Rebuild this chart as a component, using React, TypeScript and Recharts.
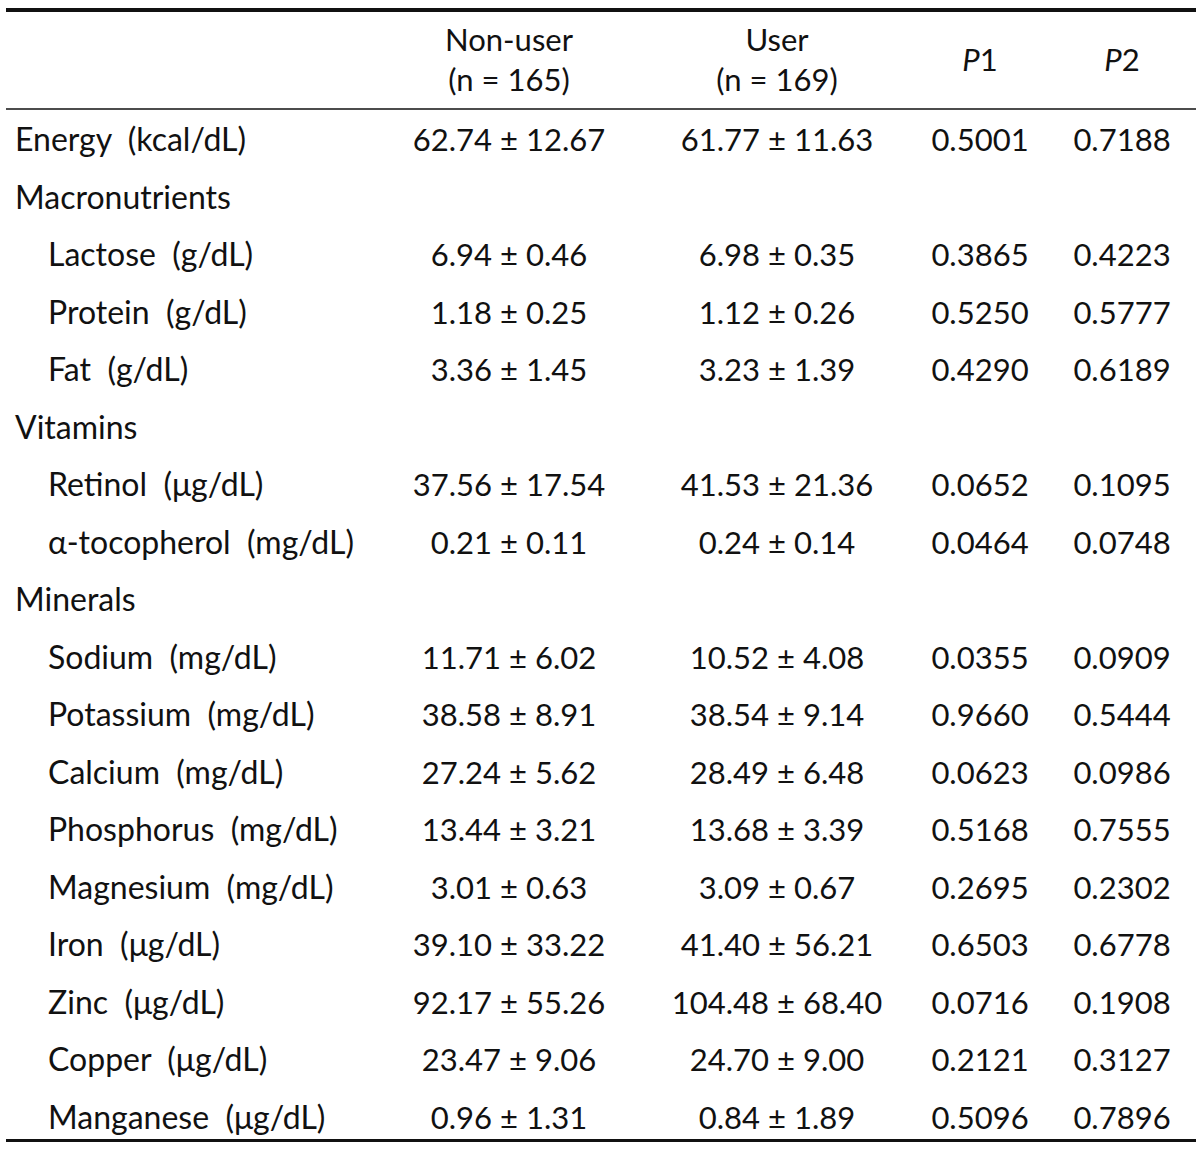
import React from 'react';
import { ScatterChart, Scatter, XAxis, YAxis } from 'recharts';

if (typeof document !== 'undefined') document.body.style.margin = '0';

// rows of the table (section rows have no unit and no values)
const rowNames = ['Energy', 'Macronutrients', 'Lactose', 'Protein', 'Fat', 'Vitamins', 'Retinol', 'α-tocopherol', 'Minerals',
  'Sodium', 'Potassium', 'Calcium', 'Phosphorus', 'Magnesium', 'Iron', 'Zinc', 'Copper', 'Manganese'];
const rowUnits = ['kcal/dL', null, 'g/dL', 'g/dL', 'g/dL', null, 'μg/dL', 'mg/dL', null,
  'mg/dL', 'mg/dL', 'mg/dL', 'mg/dL', 'mg/dL', 'μg/dL', 'μg/dL', 'μg/dL', 'μg/dL'];

const nonUserMean = [62.74, null, 6.94, 1.18, 3.36, null, 37.56, 0.21, null, 11.71, 38.58, 27.24, 13.44, 3.01, 39.10, 92.17, 23.47, 0.96];
const nonUserSd = [12.67, null, 0.46, 0.25, 1.45, null, 17.54, 0.11, null, 6.02, 8.91, 5.62, 3.21, 0.63, 33.22, 55.26, 9.06, 1.31];
const userMean = [61.77, null, 6.98, 1.12, 3.23, null, 41.53, 0.24, null, 10.52, 38.54, 28.49, 13.68, 3.09, 41.40, 104.48, 24.70, 0.84];
const userSd = [11.63, null, 0.35, 0.26, 1.39, null, 21.36, 0.14, null, 4.08, 9.14, 6.48, 3.39, 0.67, 56.21, 68.40, 9.00, 1.89];
const p1 = [0.5001, null, 0.3865, 0.5250, 0.4290, null, 0.0652, 0.0464, null, 0.0355, 0.9660, 0.0623, 0.5168, 0.2695, 0.6503, 0.0716, 0.2121, 0.5096];
const p2 = [0.7188, null, 0.4223, 0.5777, 0.6189, null, 0.1095, 0.0748, null, 0.0909, 0.5444, 0.0986, 0.7555, 0.2302, 0.6778, 0.1908, 0.3127, 0.7896];

// header
const columnKeys = ['nonUser', 'user', 'p1', 'p2'];
const groupNames = ['Non-user', 'User'];
const groupSizes = [165, 169];

// layout
const W = 1200, H = 1153;
const FONT = 'Lato, "Open Sans", sans-serif';
const FS = 32, FS_VAL = 31;
const LABEL_X = 15, INDENT = 33;
const COL_CENTER: Record<string, number> = { nonUser: 509, user: 777, p1: 980, p2: 1122 };

const fmtMeanSd = (m: number | null, s: number | null) => (m == null || s == null ? null : `${m.toFixed(2)} ± ${s.toFixed(2)}`);
const fmtP = (p: number | null) => (p == null ? null : p.toFixed(4));

let inSection = false;
const labelData = rowNames.map((name, i) => {
  const isSection = rowUnits[i] == null;
  if (isSection) inSection = true;
  return { x: LABEL_X, y: i, text: isSection ? name : `${name}  (${rowUnits[i]})`, indent: !isSection && inSection };
});

const cellData = (texts: (string | null)[], key: string) =>
  texts.map((t, i) => ({ x: COL_CENTER[key], y: i, text: t })).filter((d) => d.text != null);

const nonUserData = cellData(nonUserMean.map((m, i) => fmtMeanSd(m, nonUserSd[i])), 'nonUser');
const userData = cellData(userMean.map((m, i) => fmtMeanSd(m, userSd[i])), 'user');
const p1Data = cellData(p1.map(fmtP), 'p1');
const p2Data = cellData(p2.map(fmtP), 'p2');

const LabelCell = (props: any) => {
  const { cx, cy, payload } = props;
  return (
    <text x={cx + (payload.indent ? INDENT : 0)} y={cy} dy={11} textAnchor="start" fontFamily={FONT} fontSize={FS}
      fill="#111" style={{ whiteSpace: 'pre' }}>{payload.text}</text>
  );
};

const ValueCell = (props: any) => {
  const { cx, cy, payload } = props;
  return (
    <text x={cx} y={cy} dy={11} textAnchor="middle" fontFamily={FONT} fontSize={FS_VAL} fill="#111"
      style={{ whiteSpace: 'pre' }}>{payload.text}</text>
  );
};

const HeaderTick = (props: any) => {
  const { x, y, payload } = props;
  const idx = columnKeys.findIndex((k) => COL_CENTER[k] === payload.value);
  if (idx < 0) return null;
  if (idx < 2) {
    return (
      <g>
        <text x={x} y={y - 69 + 11} textAnchor="middle" fontFamily={FONT} fontSize={FS_VAL} fill="#111">{groupNames[idx]}</text>
        <text x={x} y={y - 29 + 11} textAnchor="middle" fontFamily={FONT} fontSize={FS_VAL} fill="#111"
          style={{ whiteSpace: 'pre' }}>{`(n = ${groupSizes[idx]})`}</text>
      </g>
    );
  }
  return (
    <text x={x} y={y - 49 + 11} textAnchor="middle" fontFamily={FONT} fontSize={FS_VAL} fill="#111">
      <tspan fontStyle="italic">P</tspan>{idx - 1}
    </text>
  );
};

export default function App() {
  return (
    <div style={{ position: 'relative', width: W, height: H, background: '#fff' }}>
      <div style={{ position: 'absolute', left: 6, top: 8, width: 1190, height: 4, background: '#111' }} />
      <div style={{ position: 'absolute', left: 6, top: 1139, width: 1190, height: 3, background: '#111' }} />
      <div style={{ position: 'absolute', left: 0, top: 0 }}>
        <ScatterChart width={W} height={H} margin={{ top: 12, right: 4, bottom: 12, left: 6 }}>
          <XAxis xAxisId="top" orientation="top" type="number" dataKey="x" domain={[6, 1196]} height={97}
            ticks={columnKeys.map((k) => COL_CENTER[k])} tick={<HeaderTick />} tickLine={false} tickSize={0} tickMargin={0}
            axisLine={{ stroke: '#111', strokeWidth: 1.5 }} allowDataOverflow />
          <YAxis type="number" dataKey="y" domain={[0, rowNames.length - 1]} reversed hide padding={{ top: 31, bottom: 23 }} />
          <Scatter xAxisId="top" data={labelData} shape={<LabelCell />} isAnimationActive={false} />
          <Scatter xAxisId="top" data={nonUserData} shape={<ValueCell />} isAnimationActive={false} />
          <Scatter xAxisId="top" data={userData} shape={<ValueCell />} isAnimationActive={false} />
          <Scatter xAxisId="top" data={p1Data} shape={<ValueCell />} isAnimationActive={false} />
          <Scatter xAxisId="top" data={p2Data} shape={<ValueCell />} isAnimationActive={false} />
        </ScatterChart>
      </div>
    </div>
  );
}
